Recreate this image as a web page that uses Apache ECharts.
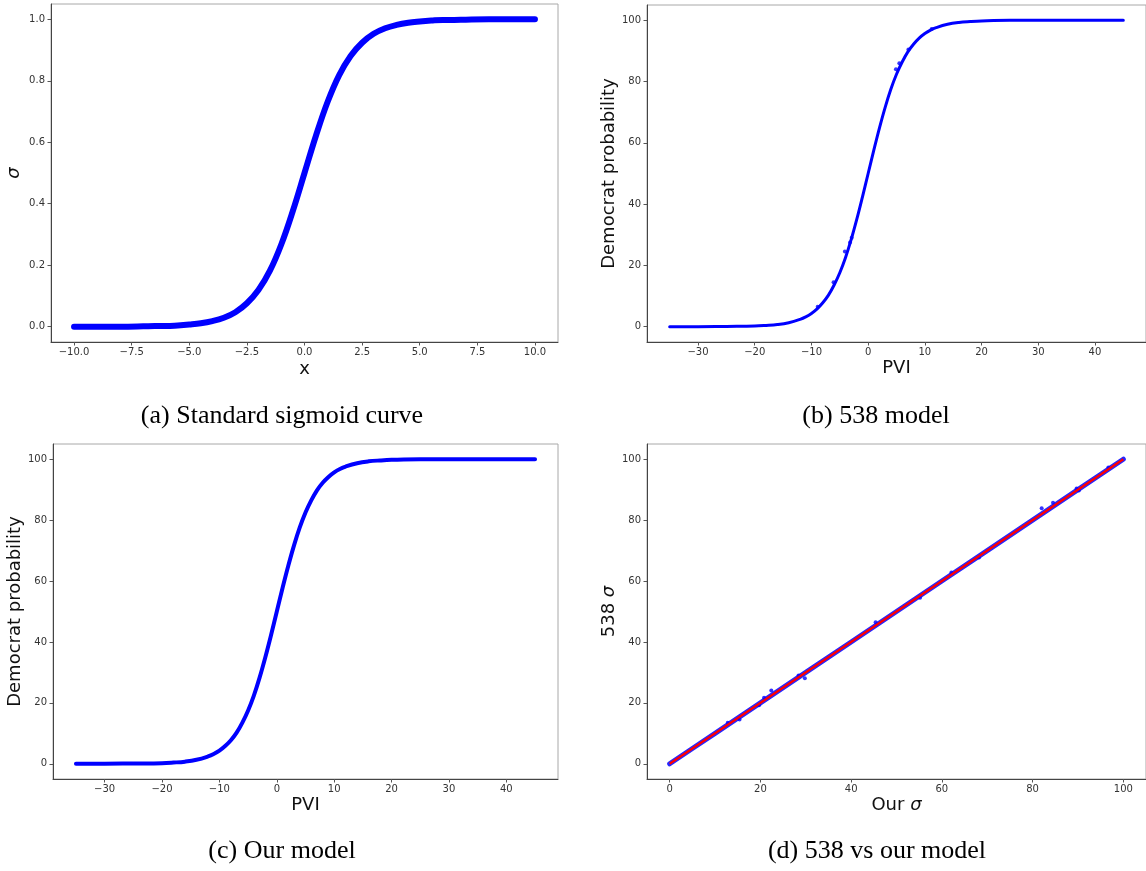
<!DOCTYPE html>
<html>
<head>
<meta charset="utf-8">
<script src="https://cdn.jsdelivr.net/npm/echarts@6/dist/echarts.min.js"></script>
<style>
  html, body { margin: 0; padding: 0; background: #fff; }
  #chart { width: 1146px; height: 871px; }
</style>
</head>
<body>
<div id="chart"></div>
<script>
// ---------- data ----------
// (a) standard sigmoid
const sigX = [-10, -9, -8, -7, -6.5, -6, -5.5, -5, -4.5, -4, -3.5, -3, -2.5, -2, -1.5, -1, -0.5, 0, 0.5, 1, 1.5, 2, 2.5, 3, 3.5, 4, 4.5, 5, 5.5, 6, 6.5, 7, 8, 9, 10];
const sigY = [0.000, 0.000, 0.000, 0.001, 0.002, 0.002, 0.004, 0.007, 0.011, 0.018, 0.029, 0.047, 0.076, 0.119, 0.182, 0.269, 0.378, 0.500, 0.622, 0.731, 0.818, 0.881, 0.924, 0.953, 0.971, 0.982, 0.989, 0.993, 0.996, 0.998, 0.998, 0.999, 1.000, 1.000, 1.000];

// (b) 538 model: PVI vs Democrat probability
const pviB  = [-35, -30, -25, -20, -18, -16, -14, -12, -11, -10, -9, -8, -7, -6, -5, -4, -3, -2, -1, 0, 1, 2, 3, 4, 5, 6, 7, 8, 9, 10, 11, 12, 14, 16, 18, 20, 25, 30, 35, 40, 45];
const probB = [0.0, 0.0, 0.1, 0.2, 0.4, 0.7, 1.3, 2.4, 3.2, 4.3, 5.8, 7.8, 10.3, 13.6, 17.6, 22.5, 28.4, 35.1, 42.4, 50.0, 57.6, 64.9, 71.6, 77.5, 82.4, 86.4, 89.7, 92.2, 94.2, 95.7, 96.8, 97.6, 98.7, 99.3, 99.6, 99.8, 100.0, 100.0, 100.0, 100.0, 100.0];
// individual dots that stand out from the curve in (b)
const dotsBx = [-4.1, -3.2, -2.9, 4.9, 5.5, 7.1, 11.2, -6.1, -8.9];
const dotsBy = [24.5, 27.5, 29.0, 84.0, 86.0, 90.5, 97.2, 14.5, 6.5];

// (c) our model: PVI vs Democrat probability
const pviC  = [-35, -30, -25, -20, -18, -16, -14, -12, -11, -10, -9, -8, -7, -6, -5, -4, -3, -2, -1, 0, 1, 2, 3, 4, 5, 6, 7, 8, 9, 10, 11, 12, 14, 16, 18, 20, 25, 30, 35, 40, 45];
const probC = [0.0, 0.0, 0.1, 0.2, 0.4, 0.7, 1.3, 2.4, 3.2, 4.3, 5.8, 7.7, 10.2, 13.5, 17.5, 22.4, 28.3, 35.0, 42.3, 50.0, 57.7, 65.0, 71.7, 77.6, 82.5, 86.5, 89.8, 92.3, 94.2, 95.7, 96.8, 97.6, 98.7, 99.3, 99.6, 99.8, 100.0, 100.0, 100.0, 100.0, 100.0];

// (d) 538 sigma vs our sigma
const ourSig  = [0, 5, 10, 20, 30, 40, 50, 60, 70, 80, 90, 100];
const sig538  = [0, 5, 10, 20, 30, 40, 50, 60, 70, 80, 90, 100];
const outX = [82.0, 84.5, 22.4, 29.8, 28.4, 45.4, 55.2, 62.1, 68.2, 12.8, 15.4, 20.8, 19.7, 89.7, 90.2, 96.7];
const outY = [83.9, 85.7, 24.1, 28.1, 29.0, 46.5, 54.5, 62.8, 67.7, 13.5, 14.5, 21.7, 19.2, 90.4, 89.7, 97.3];
const fitX = [0, 100];
const fitY = [0, 100];

// tick values
const ticksSigX = [-10, -7.5, -5, -2.5, 0, 2.5, 5, 7.5, 10];
const ticksSigY = [0, 0.2, 0.4, 0.6, 0.8, 1.0];
const ticksPVI  = [-30, -20, -10, 0, 10, 20, 30, 40];
const ticksPct  = [0, 20, 40, 60, 80, 100];

// captions
const captions = ['(a) Standard sigmoid curve', '(b) 538 model', '(c) Our model', '(d) 538 vs our model'];

// ---------- chart ----------
const zip = (a, b) => a.map((v, i) => [v, b[i]]);
const minus = s => String(s).replace('-', '\u2212');
const FONT = 'DejaVu Sans';

function xAxis(grid, min, max, ticks, fmt, name, nameGap, rich) {
  return {
    type: 'value', gridIndex: grid, min, max,
    name, nameLocation: 'middle', nameGap,
    nameTextStyle: { fontFamily: FONT, fontSize: 18, color: '#111', rich: rich },
    axisLine: { show: true, onZero: false, lineStyle: { color: '#444', width: 1 } },
    axisTick: { show: true, inside: false, length: 3.5, lineStyle: { color: '#555' }, customValues: ticks },
    axisLabel: { show: true, margin: 5, fontFamily: FONT, fontSize: 10, color: '#333', customValues: ticks, formatter: fmt },
    splitLine: { show: false }
  };
}
function yAxis(grid, min, max, ticks, fmt, name, nameGap, rich, italic) {
  return {
    type: 'value', gridIndex: grid, min, max,
    name, nameLocation: 'middle', nameGap,
    nameTextStyle: { fontFamily: FONT, fontSize: 18, color: '#111', fontStyle: italic ? 'italic' : 'normal', rich: rich },
    axisLine: { show: true, onZero: false, lineStyle: { color: '#444', width: 1 } },
    axisTick: { show: true, inside: false, length: 3.5, lineStyle: { color: '#555' }, customValues: ticks },
    axisLabel: { show: true, margin: 6, fontFamily: FONT, fontSize: 10, color: '#333', customValues: ticks, formatter: fmt },
    splitLine: { show: false }
  };
}
const fmt1 = v => minus(Number(v).toFixed(1));
const fmt0 = v => minus(v);
const sigRich = { i: { fontFamily: FONT, fontSize: 18, fontStyle: 'italic', color: '#111' }, n: { fontFamily: FONT, fontSize: 18, color: '#111' } };

const gridStyle = { show: true, borderColor: '#a8a8a8', borderWidth: 1, backgroundColor: '#fff' };
const BLUE = '#0000ff';
const CAP_FONT = '26px "Liberation Serif"';

const option = {
  backgroundColor: '#fff',
  animation: false,
  grid: [
    Object.assign({ left: 51, top: 4, width: 507, height: 338 }, gridStyle),
    Object.assign({ left: 647, top: 5, width: 504, height: 337 }, gridStyle),
    Object.assign({ left: 53, top: 444, width: 505, height: 335 }, gridStyle),
    Object.assign({ left: 647, top: 444, width: 503, height: 335 }, gridStyle)
  ],
  xAxis: [
    xAxis(0, -11, 11, ticksSigX, fmt1, 'x', 18),
    xAxis(1, -39, 49, ticksPVI, fmt0, 'PVI', 17),
    xAxis(2, -39, 49, ticksPVI, fmt0, 'PVI', 17),
    xAxis(3, -5, 105, ticksPct, fmt0, '{n|Our }{i|σ}', 17, sigRich)
  ],
  yAxis: [
    yAxis(0, -0.05, 1.05, ticksSigY, fmt1, 'σ', 28, null, true),
    yAxis(1, -5, 105, ticksPct, fmt0, 'Democrat probability', 29),
    yAxis(2, -5, 105, ticksPct, fmt0, 'Democrat probability', 28),
    yAxis(3, -5, 105, ticksPct, fmt0, '{n|538 }{i|σ}', 29, sigRich)
  ],
  series: [
    { type: 'line', xAxisIndex: 0, yAxisIndex: 0, data: zip(sigX, sigY), smooth: 0.4,
      showSymbol: false, lineStyle: { color: BLUE, width: 6, cap: 'round' } },
    { type: 'line', xAxisIndex: 1, yAxisIndex: 1, data: zip(pviB, probB), smooth: 0.4,
      showSymbol: false, lineStyle: { color: BLUE, width: 3, cap: 'round' } },
    { type: 'scatter', xAxisIndex: 1, yAxisIndex: 1, data: zip(dotsBx, dotsBy), symbolSize: 4,
      itemStyle: { color: BLUE } },
    { type: 'line', xAxisIndex: 2, yAxisIndex: 2, data: zip(pviC, probC), smooth: 0.4,
      showSymbol: false, lineStyle: { color: BLUE, width: 4, cap: 'round' } },
    { type: 'line', xAxisIndex: 3, yAxisIndex: 3, data: zip(ourSig, sig538),
      showSymbol: false, lineStyle: { color: BLUE, width: 5, cap: 'round', opacity: 0.85 } },
    { type: 'scatter', xAxisIndex: 3, yAxisIndex: 3, data: zip(outX, outY), symbolSize: 4,
      itemStyle: { color: BLUE } },
    { type: 'line', xAxisIndex: 3, yAxisIndex: 3, data: zip(fitX, fitY),
      showSymbol: false, lineStyle: { color: '#ff0000', width: 2.2 } }
  ],
  graphic: [
    { type: 'text', x: 282, y: 416, style: { text: captions[0], font: CAP_FONT, fill: '#000', align: 'center', verticalAlign: 'middle' } },
    { type: 'text', x: 876, y: 416, style: { text: captions[1], font: CAP_FONT, fill: '#000', align: 'center', verticalAlign: 'middle' } },
    { type: 'text', x: 282, y: 851, style: { text: captions[2], font: CAP_FONT, fill: '#000', align: 'center', verticalAlign: 'middle' } },
    { type: 'text', x: 877, y: 851, style: { text: captions[3], font: CAP_FONT, fill: '#000', align: 'center', verticalAlign: 'middle' } }
  ]
};

const chart = echarts.init(document.getElementById('chart'), null, { renderer: 'canvas' });
chart.setOption(option);
</script>
</body>
</html>
